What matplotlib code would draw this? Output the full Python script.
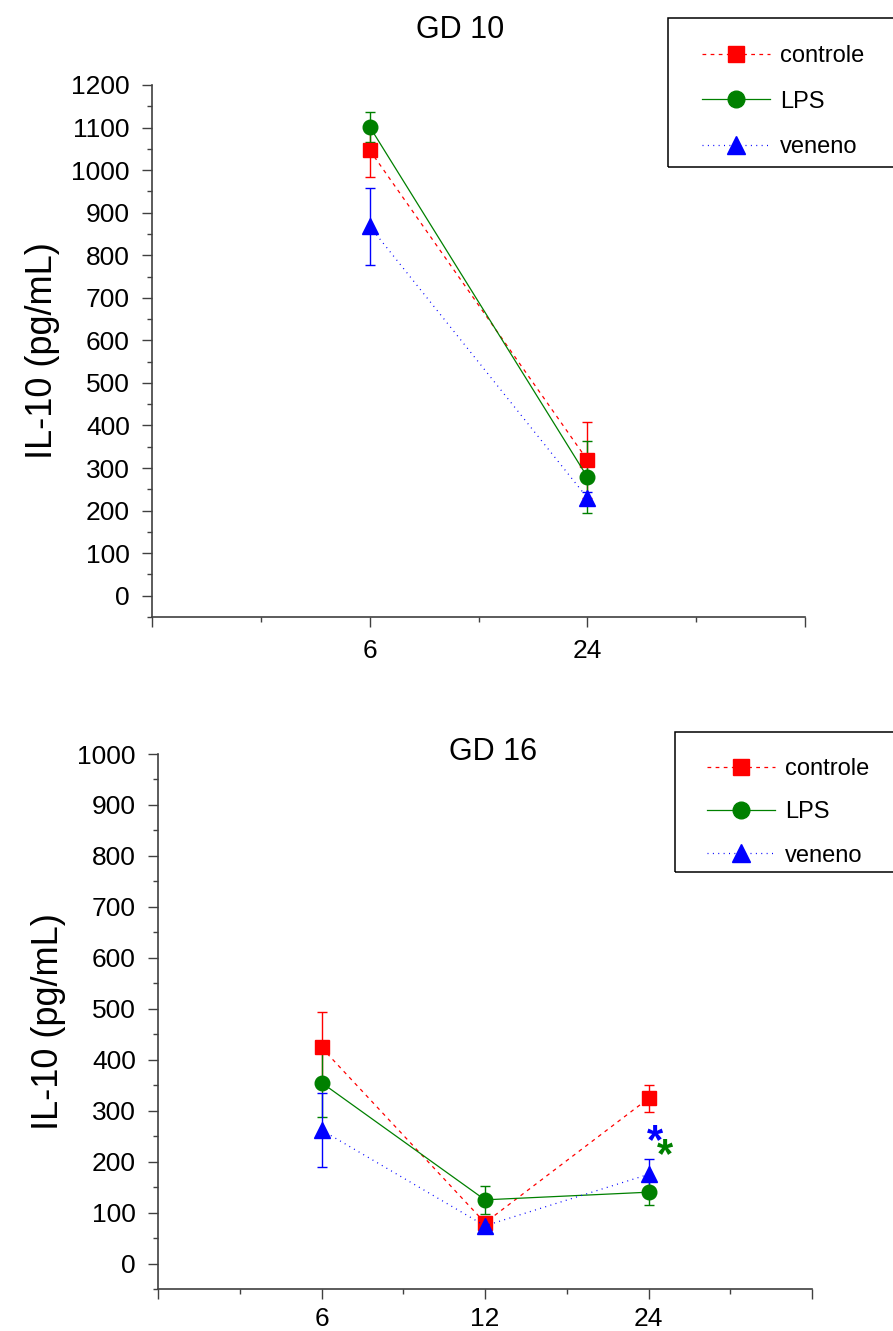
import matplotlib
matplotlib.use("Agg")
import matplotlib.pyplot as plt
from matplotlib.lines import Line2D
from matplotlib.patches import Rectangle
from matplotlib.ticker import FixedLocator
import numpy as np

plt.rcParams["font.family"] = ["Liberation Sans", "DejaVu Sans"]

RED, GREEN, BLUE = "#ff0000", "#008000", "#0000ff"
SPINE = "#404040"

# GD 10 panel
gd10_times = ["6", "24"]
gd10_controle = [1047, 319]
gd10_controle_err = [63, 90]
gd10_lps = [1102, 279]
gd10_lps_err = [35, 85]
gd10_veneno = [868, 230]
gd10_veneno_err = [90, 14]

# GD 16 panel
gd16_times = ["6", "12", "24"]
gd16_controle = [424, 80, 324]
gd16_controle_err = [70, 8, 27]
gd16_lps = [355, 125, 140]
gd16_lps_err = [67, 28, 25]
gd16_veneno = [262, 74, 175]
gd16_veneno_err = [72, 8, 30]

series_names = ["controle", "LPS", "veneno"]

W, H = 893, 1331
fig = plt.figure(figsize=(W / 100, H / 100), dpi=100)


def fx(px):
    return px / W


def fy(py):
    return 1 - py / H


STYLES = [
    dict(color=RED, marker="s", ms=9.5, dashes=(3, 3.5)),
    dict(color=GREEN, marker="o", ms=10.5, ls="-"),
    dict(color=BLUE, marker="^", ms=11, dashes=(0.8, 3.5)),
]


def panel(ax, times, vals, errs, ymax, xmax, xpad):
    x = np.arange(1, len(times) + 1) * 2
    for v, e, st in zip(vals, errs, STYLES):
        kw = dict(st)
        c = kw.pop("color")
        ax.errorbar(x, v, yerr=e, color=c, ls="none", elinewidth=1,
                    capsize=3.8, capthick=1, zorder=2)
        ax.plot(x, v, lw=0.9, color=c, mec=c, zorder=3, **kw)
    ax.set_xlim(0, xmax)
    ax.set_ylim(-50, ymax)
    for s in ["top", "right"]:
        ax.spines[s].set_visible(False)
    for s in ["left", "bottom"]:
        ax.spines[s].set_color(SPINE)
        ax.spines[s].set_linewidth(1.2)
    ax.set_yticks(np.arange(0, ymax + 1, 100))
    ax.yaxis.set_minor_locator(FixedLocator(np.arange(-50, ymax, 100)))
    ax.xaxis.set_major_locator(FixedLocator(np.arange(0, xmax + 1, 2)))
    ax.xaxis.set_minor_locator(FixedLocator(np.arange(1, xmax, 2)))
    labels = [""] + list(times) + [""] * (xmax // 2 - len(times))
    ax.set_xticklabels(labels)
    ax.tick_params(axis="both", which="major", direction="out", length=7,
                   width=1, color=SPINE, labelsize=19)
    ax.tick_params(axis="both", which="minor", direction="out", length=3.8,
                   width=1, color=SPINE)
    ax.tick_params(axis="y", pad=9)
    ax.tick_params(axis="x", pad=xpad)
    ax.set_ylabel("IL-10 (pg/mL)", fontsize=26, labelpad=8)


# top panel
ax1 = fig.add_axes([fx(152), fy(617), fx(805 - 152), (617 - 85) / H])
panel(ax1, gd10_times, [gd10_controle, gd10_lps, gd10_veneno],
      [gd10_controle_err, gd10_lps_err, gd10_veneno_err], 1200, 6, 9)
fig.text(fx(460), fy(30), "GD 10", fontsize=22, ha="center", va="center")

# bottom panel
ax2 = fig.add_axes([fx(158), fy(1289), fx(812 - 158), (1289 - 754) / H])
panel(ax2, gd16_times, [gd16_controle, gd16_lps, gd16_veneno],
      [gd16_controle_err, gd16_lps_err, gd16_veneno_err], 1000, 8, 6)
fig.text(fx(493), fy(752), "GD 16", fontsize=22, ha="center", va="center")
ax2.text(6.08, gd16_veneno[2] + 64, "*", color=BLUE, fontsize=30,
         fontweight="bold", ha="center", va="center")
ax2.text(6.2, gd16_lps[2] + 70, "*", color=GREEN, fontsize=30,
         fontweight="bold", ha="center", va="center")

# legends
handles = []
for name, st in zip(series_names, STYLES):
    kw = dict(st)
    c = kw.pop("color")
    kw["ms"] = kw["ms"] + 1.5
    handles.append(Line2D([], [], color=c, mec=c, lw=0.9, label=name, **kw))

for bx, by, bb, hx, row0, lsp in [(668, 18, 167, 702, 53, 1.0),
                                  (675, 732, 872, 707, 766, 0.9)]:
    fig.patches.append(Rectangle((fx(bx), fy(bb)), fx(W - bx + 20), (bb - by) / H,
                                 transform=fig.transFigure, fill=False,
                                 ec="black", lw=1.1, zorder=5))
    fig.legend(handles=handles, loc="upper left",
               bbox_to_anchor=(fx(hx), fy(row0 - 8)), frameon=False,
               borderpad=0, borderaxespad=0, fontsize=17, handlelength=2.9,
               handletextpad=0.4, labelspacing=lsp, numpoints=1)

fig.savefig("out.png", dpi=100)
